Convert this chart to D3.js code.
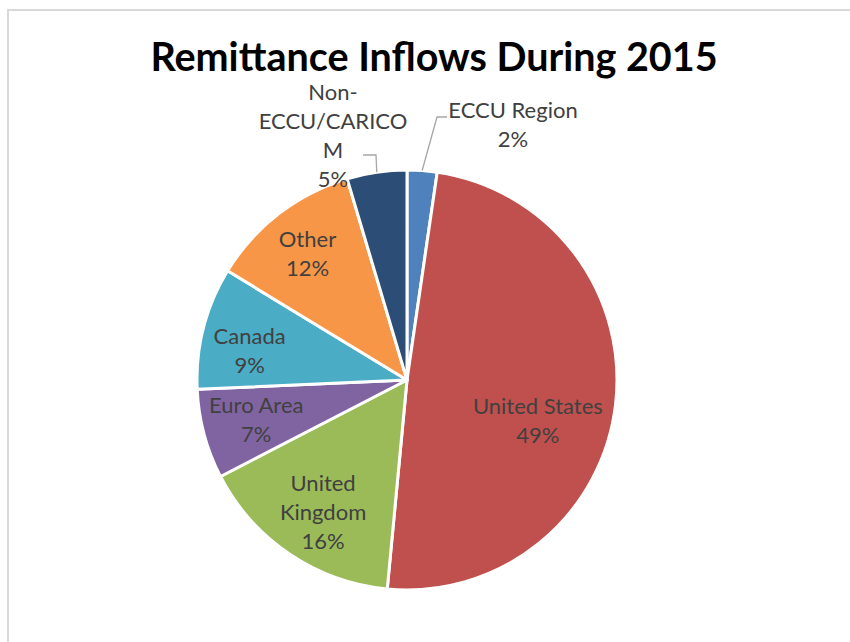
<!DOCTYPE html>
<html>
<head>
<meta charset="utf-8">
<script src="https://cdn.jsdelivr.net/npm/d3@7"></script>
<style>
  html, body { margin: 0; padding: 0; background: #fff; }
  svg { display: block; }
</style>
</head>
<body>
<svg id="chart" width="850" height="642"></svg>
<script>
// Remittance inflows by source, share of total (%)
const categories = ["ECCU Region", "United States", "United Kingdom", "Euro Area", "Canada", "Other", "Non-ECCU/CARICOM"];
const shares = [2.3, 49.2, 15.9, 6.9, 9.4, 11.7, 4.6];
const colors = ["#4f81bd", "#c0504d", "#9bbb59", "#8064a2", "#4bacc6", "#f79646", "#2c4d75"];
// Wrapped label text for each category
const labelLines = [["ECCU Region"], ["United States"], ["United", "Kingdom"], ["Euro Area"], ["Canada"], ["Other"], ["Non-", "ECCU/CARICO", "M"]];

const W = 850, H = 642;
const cx = 407, cy = 380, R = 210;
const fontFamily = "Lato, 'Open Sans', 'DejaVu Sans', sans-serif";
const lineH = 29;

const svg = d3.select("#chart");

// Chart area border (left and top edges visible)
svg.append("path")
  .attr("d", `M8,${H} L8,10 L${W},10`)
  .attr("fill", "none")
  .attr("stroke", "#d9d9d9")
  .attr("stroke-width", 2);

// Title
svg.append("text")
  .attr("x", 434)
  .attr("y", 71)
  .attr("text-anchor", "middle")
  .attr("font-family", fontFamily)
  .attr("font-weight", "bold")
  .attr("font-size", 39.5)
  .attr("fill", "#000")
  .text("Remittance Inflows During 2015");

const data = categories.map((c, i) => ({ name: c, value: shares[i], color: colors[i], lines: labelLines[i] }));

const pie = d3.pie().sort(null).value(d => d.value);
const arcs = pie(data);
const arc = d3.arc().innerRadius(0).outerRadius(R);

const g = svg.append("g").attr("transform", `translate(${cx},${cy})`);

g.selectAll("path.slice")
  .data(arcs)
  .join("path")
  .attr("class", "slice")
  .attr("d", arc)
  .attr("fill", d => d.data.color)
  .attr("stroke", "#fff")
  .attr("stroke-width", 3)
  .attr("stroke-linejoin", "round");

const pct = d3.format(".0f");
const midAngle = d => (d.startAngle + d.endAngle) / 2;
const polar = (a, r) => [Math.sin(a) * r, -Math.cos(a) * r];

// Label placement: inside labels sit on a radius/angle tweak, outside ones carry leader lines
const placement = {
  "ECCU Region":      { outside: true, text: [106, -255], elbow: [30, -263], end: [40, -263] },
  "United States":    { r: 137, da: 0.18 },
  "United Kingdom":   { r: 157, da: -0.03 },
  "Euro Area":        { r: 156, da: 0 },
  "Canada":           { r: 160, da: -0.07 },
  "Other":            { r: 161, da: -0.01 },
  "Non-ECCU/CARICOM": { outside: true, text: [-74, -244], elbow: [-31, -225], end: [-44, -225] }
};

const labels = g.append("g")
  .attr("font-family", fontFamily)
  .attr("font-size", 22)
  .attr("fill", "#404040")
  .attr("text-anchor", "middle");

arcs.forEach(d => {
  const p = placement[d.data.name];
  const lines = d.data.lines.concat([pct(d.data.value) + "%"]);
  let x, y;
  if (p.outside) {
    [x, y] = p.text;
    const start = polar(midAngle(d), R);
    g.append("polyline")
      .attr("points", [start, p.elbow, p.end].map(q => q.join(",")).join(" "))
      .attr("fill", "none")
      .attr("stroke", "#a6a6a6")
      .attr("stroke-width", 1.3);
  } else {
    [x, y] = polar(midAngle(d) + p.da, p.r);
  }
  const top = y - (lines.length - 1) * lineH / 2;
  const t = labels.append("text");
  lines.forEach((ln, i) => {
    t.append("tspan")
      .attr("x", x)
      .attr("y", top + i * lineH)
      .attr("dy", "0.35em")
      .text(ln);
  });
});
</script>
</body>
</html>
